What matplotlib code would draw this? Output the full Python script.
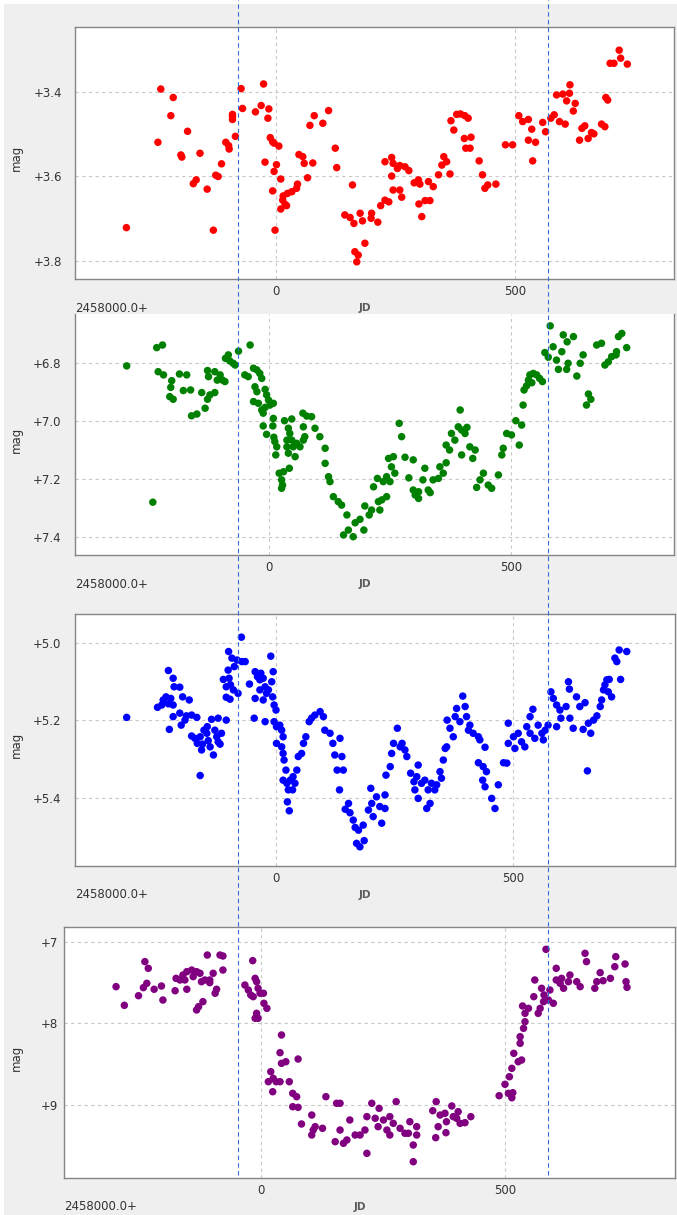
"""Four stacked light curves (JD vs mag) with two dashed reference lines."""
import matplotlib

matplotlib.use("Agg")
import matplotlib.pyplot as plt
from matplotlib.lines import Line2D
from matplotlib.patches import Rectangle
from matplotlib.ticker import FixedLocator, FuncFormatter

W, H = 677, 1215
BG = "#efefef"

# ---- data (JD - 2458000, magnitude) ----
RED_JD = [-313, -247, -241, -215, -220, -185, -199, -197, -159, -173,
          -167, -144, -131, -126, -121, -114, -105, -98, -99, -91,
          -91, -91, -85, -73, -70, -43, -31, -26, -15, -17,
          -23, -12, -7, -4, 6, 1, -4, 10, -7, -2,
          15, 24, 33, 43, 45, 14, 19, 10, 22, 48,
          56, 59, 66, 71, 80, 77, 98, 110, 124, 127,
          160, 144, 155, 163, 176, 181, 200, 199, 213, 165,
          172, 169, 186, 219, 228, 236, 228, 242, 245, 254,
          242, 259, 270, 278, 245, 259, 263, 289, 298, 301,
          319, 329, 299, 312, 322, 305, 340, 347, 351, 357,
          364, 366, 372, 378, 386, 395, 402, 394, 408, 397,
          406, 425, 432, 437, 443, 460, 480, 495, 508, 516,
          528, 535, 528, 543, 537, 558, 564, 575, 582, 587,
          600, 615, 614, 608, 626, 622, 593, 605, 635, 640,
          646, 653, 660, 665, 681, 688, 690, 694, 699, 707,
          718, 721, 735]
RED_MAG = [3.721, 3.519, 3.393, 3.413, 3.456, 3.493, 3.549, 3.554, 3.545, 3.617,
           3.608, 3.630, 3.727, 3.597, 3.600, 3.570, 3.519, 3.535, 3.527, 3.453,
           3.458, 3.465, 3.505, 3.392, 3.439, 3.447, 3.432, 3.381, 3.440, 3.462,
           3.566, 3.508, 3.518, 3.521, 3.528, 3.572, 3.588, 3.606, 3.634, 3.727,
           3.646, 3.640, 3.636, 3.628, 3.618, 3.656, 3.666, 3.677, 3.669, 3.548,
           3.553, 3.569, 3.603, 3.479, 3.456, 3.568, 3.474, 3.444, 3.533, 3.579,
           3.620, 3.691, 3.697, 3.711, 3.687, 3.705, 3.687, 3.699, 3.708, 3.778,
           3.786, 3.802, 3.758, 3.669, 3.656, 3.660, 3.565, 3.555, 3.569, 3.581,
           3.599, 3.574, 3.577, 3.586, 3.632, 3.632, 3.649, 3.615, 3.608, 3.618,
           3.612, 3.624, 3.665, 3.657, 3.657, 3.695, 3.596, 3.573, 3.553, 3.565,
           3.594, 3.468, 3.490, 3.453, 3.452, 3.456, 3.462, 3.510, 3.507, 3.533,
           3.533, 3.563, 3.596, 3.628, 3.620, 3.618, 3.525, 3.525, 3.456, 3.470,
           3.465, 3.488, 3.514, 3.519, 3.563, 3.472, 3.494, 3.462, 3.454, 3.407,
           3.405, 3.383, 3.403, 3.421, 3.427, 3.445, 3.470, 3.476, 3.514, 3.486,
           3.480, 3.510, 3.496, 3.499, 3.476, 3.482, 3.413, 3.419, 3.332, 3.332,
           3.301, 3.320, 3.334]

GREEN_JD = [-294, -240, -232, -220, -229, -218, -201, -203, -205, -198,
            -185, -170, -177, -162, -160, -149, -132, -139, -127, -122,
            -112, -127, -125, -112, -107, -101, -96, -91, -90, -84,
            -81, -74, -70, -63, -39, -50, -43, -32, -25, -19,
            -15, -29, -25, -8, -5, -1, -32, -22, -15, -8,
            -12, 2, 9, 9, 8, -12, -5, 10, 12, 16,
            14, 21, 30, 26, 28, 26, 42, 32, 47, 40,
            43, 37, 37, 47, 50, 54, 40, 57, 64, 71,
            74, 71, 70, 78, 88, 95, 105, 116, 116, 123,
            126, 133, 143, 150, 161, 154, 164, 174, 178, 188,
            196, 198, 207, 212, 226, 229, 233, 243, 216, 224,
            236, 243, 250, 260, 253, 247, 257, 269, 274, 281,
            289, 298, 298, 302, 309, 309, 318, 322, 329, 333,
            339, 350, 353, 360, 366, 366, 373, 377, 384, 391,
            395, 398, 405, 409, 398, 415, 426, 421, 429, 436,
            443, 453, 460, 474, 481, 484, 491, 501, 510, 517,
            522, 525, 527, 532, 536, 539, 546, 553, 559, 565,
            543, 581, 570, 577, 587, 594, 598, 605, 608, 616,
            629, 618, 615, 636, 643, 649, 656, 660, 665, 677,
            687, 694, 701, 708, 718, 722, 729, 739, 717]
GREEN_MAG = [6.810, 7.280, 6.747, 6.738, 6.830, 6.841, 6.861, 6.884, 6.916, 6.925,
             6.838, 6.841, 6.895, 6.893, 6.982, 6.976, 6.956, 6.902, 6.925, 6.910,
             6.902, 6.826, 6.847, 6.830, 6.859, 6.841, 6.859, 6.864, 6.784, 6.772,
             6.793, 6.801, 6.807, 6.759, 6.738, 6.841, 6.847, 6.818, 6.824, 6.836,
             6.853, 6.882, 6.899, 6.891, 6.910, 6.928, 6.933, 6.939, 6.962, 6.953,
             6.973, 6.945, 6.939, 6.991, 7.017, 7.017, 7.046, 7.056, 7.071, 7.089,
             7.117, 7.180, 7.175, 7.203, 7.221, 7.232, 7.163, 6.999, 6.993, 7.025,
             7.043, 7.066, 7.089, 7.066, 7.089, 7.123, 7.111, 7.077, 7.089, 7.020,
             7.054, 7.066, 6.973, 6.983, 6.985, 7.025, 7.054, 7.094, 7.146, 7.192,
             7.209, 7.261, 7.278, 7.290, 7.324, 7.393, 7.376, 7.399, 7.351, 7.339,
             7.376, 7.293, 7.324, 7.307, 7.278, 7.307, 7.272, 7.261, 7.227, 7.198,
             7.209, 7.192, 7.209, 7.180, 7.158, 7.129, 7.123, 7.008, 7.054, 7.125,
             7.196, 7.134, 7.238, 7.255, 7.267, 7.244, 7.203, 7.163, 7.238, 7.247,
             7.203, 7.198, 7.158, 7.180, 7.144, 7.083, 7.100, 7.043, 7.066, 7.020,
             6.962, 7.031, 7.043, 7.022, 7.117, 7.089, 7.100, 7.129, 7.229, 7.203,
             7.180, 7.221, 7.232, 7.186, 7.117, 7.094, 7.043, 7.048, 6.999, 7.083,
             7.014, 6.945, 6.893, 6.879, 6.859, 6.841, 6.836, 6.841, 6.853, 6.864,
             6.868, 6.672, 6.764, 6.780, 6.744, 6.790, 6.822, 6.761, 6.703, 6.727,
             6.709, 6.801, 6.822, 6.845, 6.801, 6.772, 6.945, 6.907, 6.925, 6.738,
             6.732, 6.807, 6.796, 6.778, 6.761, 6.709, 6.698, 6.747, 6.772]

BLUE_JD = [-315, -250, -241, -238, -232, -227, -222, -217, -225, -227,
           -217, -215, -203, -197, -183, -217, -203, -200, -192, -189,
           -178, -167, -178, -171, -166, -160, -155, -157, -152, -145,
           -146, -143, -139, -132, -160, -136, -129, -125, -122, -118,
           -122, -115, -105, -111, -105, -101, -99, -100, -93, -96,
           -90, -105, -97, -80, -88, -82, -72, -65, -73, -56,
           -46, -44, -39, -32, -34, -27, -23, -44, -34, -23,
           -20, -27, -16, -11, -6, -9, -7, -4, 0, -4,
           1, 8, 12, 15, 1, 12, 15, 17, 21, 15,
           23, 26, 30, 36, 40, 44, 35, 24, 28, 47,
           54, 58, 63, 70, 75, 82, 93, 100, 103, 114,
           120, 124, 129, 134, 135, 139, 142, 146, 153, 156,
           163, 167, 170, 177, 186, 174, 184, 195, 202, 200,
           205, 212, 219, 223, 230, 230, 232, 241, 244, 248,
           256, 262, 266, 272, 276, 284, 291, 297, 300, 293,
           300, 307, 314, 318, 325, 321, 328, 335, 339, 346,
           349, 353, 357, 360, 361, 367, 374, 378, 381, 388,
           394, 399, 402, 406, 409, 416, 427, 430, 441, 427,
           437, 444, 436, 441, 455, 462, 469, 480, 487, 490,
           490, 501, 504, 511, 518, 525, 529, 536, 542, 536,
           546, 553, 561, 568, 574, 564, 580, 585, 592, 599,
           601, 612, 592, 617, 619, 620, 627, 634, 641, 652,
           657, 648, 664, 659, 670, 677, 684, 687, 691, 694,
           701, 698, 708, 703, 715, 719, 724, 727, 740]
BLUE_MAG = [5.192, 5.166, 5.160, 5.147, 5.139, 5.157, 5.143, 5.160, 5.223, 5.071,
            5.091, 5.113, 5.114, 5.139, 5.147, 5.190, 5.181, 5.212, 5.199, 5.188,
            5.186, 5.192, 5.240, 5.246, 5.259, 5.242, 5.261, 5.276, 5.225, 5.216,
            5.233, 5.252, 5.268, 5.289, 5.342, 5.197, 5.225, 5.242, 5.255, 5.261,
            5.194, 5.233, 5.199, 5.094, 5.113, 5.070, 5.091, 5.022, 5.039, 5.108,
            5.121, 5.140, 5.145, 5.130, 5.061, 5.044, 5.048, 5.048, 4.985, 5.106,
            5.194, 5.074, 5.087, 5.078, 5.095, 5.091, 5.203, 5.143, 5.121, 5.113,
            5.130, 5.147, 5.121, 5.034, 5.074, 5.100, 5.139, 5.160, 5.173, 5.203,
            5.216, 5.212, 5.225, 5.242, 5.259, 5.268, 5.285, 5.302, 5.328, 5.354,
            5.362, 5.379, 5.354, 5.345, 5.362, 5.328, 5.379, 5.410, 5.433, 5.293,
            5.285, 5.259, 5.242, 5.203, 5.194, 5.186, 5.177, 5.190, 5.225, 5.233,
            5.259, 5.289, 5.328, 5.379, 5.246, 5.293, 5.328, 5.429, 5.414, 5.438,
            5.457, 5.476, 5.517, 5.526, 5.510, 5.483, 5.470, 5.431, 5.414, 5.375,
            5.448, 5.397, 5.422, 5.465, 5.392, 5.427, 5.341, 5.319, 5.285, 5.259,
            5.220, 5.268, 5.259, 5.276, 5.293, 5.336, 5.358, 5.345, 5.315, 5.379,
            5.401, 5.362, 5.354, 5.427, 5.414, 5.379, 5.362, 5.379, 5.366, 5.332,
            5.349, 5.302, 5.272, 5.268, 5.199, 5.220, 5.242, 5.190, 5.169, 5.203,
            5.137, 5.164, 5.190, 5.225, 5.212, 5.233, 5.242, 5.250, 5.269, 5.309,
            5.319, 5.332, 5.354, 5.371, 5.401, 5.427, 5.366, 5.309, 5.310, 5.207,
            5.259, 5.242, 5.272, 5.233, 5.255, 5.268, 5.216, 5.190, 5.171, 5.233,
            5.246, 5.212, 5.233, 5.225, 5.212, 5.250, 5.126, 5.143, 5.160, 5.173,
            5.194, 5.164, 5.216, 5.100, 5.119, 5.194, 5.220, 5.139, 5.164, 5.154,
            5.330, 5.223, 5.233, 5.207, 5.199, 5.188, 5.164, 5.147, 5.121, 5.108,
            5.126, 5.095, 5.139, 5.094, 5.039, 5.048, 5.018, 5.094, 5.022]

PURPLE_JD = [-297, -280, -251, -241, -234, -238, -231, -219, -204, -201,
             -176, -174, -166, -160, -152, -156, -152, -142, -139, -132,
             -125, -122, -115, -105, -98, -110, -105, -94, -91, -84,
             -78, -78, -132, -128, -119, -17, -33, -26, -21, -12,
             -9, -16, -6, -2, 5, 6, 12, -9, -6, -12,
             42, 39, 42, 51, 76, 15, 20, 25, 31, 24,
             39, 58, 65, 73, 65, 76, 83, 104, 107, 104,
             111, 126, 133, 155, 152, 162, 162, 169, 176, 182,
             193, 203, 213, 217, 217, 227, 234, 240, 242, 251,
             258, 264, 264, 271, 277, 285, 295, 305, 302, 312,
             312, 319, 319, 352, 359, 363, 358, 367, 377, 380,
             379, 391, 394, 401, 408, 418, 430, 404, 488, 500,
             507, 514, 516, 509, 514, 518, 527, 534, 531, 531,
             538, 541, 536, 541, 548, 561, 559, 568, 572, 575,
             580, 584, 579, 589, 599, 592, 605, 605, 613, 620,
             616, 633, 630, 647, 654, 664, 667, 684, 688, 695,
             701, 716, 725, 727, 746, 748, 750]
PURPLE_MAG = [7.548, 7.777, 7.659, 7.560, 7.507, 7.241, 7.323, 7.580, 7.540, 7.712,
              7.598, 7.446, 7.466, 7.405, 7.580, 7.466, 7.364, 7.344, 7.425, 7.364,
              7.384, 7.487, 7.466, 7.466, 7.384, 7.160, 7.499, 7.629, 7.580, 7.160,
              7.172, 7.344, 7.834, 7.794, 7.732, 7.229, 7.528, 7.589, 7.650, 7.446,
              7.487, 7.671, 7.568, 7.629, 7.629, 7.752, 7.814, 7.875, 7.936, 7.936,
              8.141, 8.358, 8.489, 8.469, 8.436, 8.714, 8.591, 8.673, 8.714, 8.837,
              8.714, 8.714, 8.857, 8.898, 9.021, 9.029, 9.233, 9.123, 9.307, 9.368,
              9.266, 9.286, 8.898, 8.979, 9.450, 8.979, 9.307, 9.470, 9.429, 9.184,
              9.368, 9.368, 9.307, 9.593, 9.143, 8.979, 9.163, 9.266, 9.041, 9.184,
              9.307, 9.368, 9.143, 9.225, 8.959, 9.286, 9.347, 9.205, 9.347, 9.491,
              9.696, 9.266, 9.368, 9.070, 8.959, 9.266, 9.401, 9.123, 9.102, 9.205,
              9.340, 9.012, 9.143, 9.163, 9.225, 9.217, 9.143, 9.082, 8.886, 8.746,
              8.857, 8.911, 8.849, 8.653, 8.550, 8.366, 8.469, 8.448, 8.243, 8.162,
              8.059, 7.978, 7.785, 7.875, 7.814, 7.466, 7.671, 7.875, 7.814, 7.568,
              7.650, 7.090, 7.732, 7.712, 7.752, 7.589, 7.323, 7.466, 7.507, 7.568,
              7.446, 7.405, 7.487, 7.487, 7.548, 7.139, 7.241, 7.568, 7.487, 7.376,
              7.475, 7.446, 7.303, 7.180, 7.270, 7.487, 7.556]

SERIES = [(RED_JD, RED_MAG, "#ff0000"),
          (GREEN_JD, GREEN_MAG, "#008000"),
          (BLUE_JD, BLUE_MAG, "#0000ff"),
          (PURPLE_JD, PURPLE_MAG, "#800080")]

X_TICKS = [0, 500]
Y_TICKS = [[3.4, 3.6, 3.8], [6.8, 7.0, 7.2, 7.4], [5.0, 5.2, 5.4], [7, 8, 9]]
Y_DECIMALS = [1, 1, 1, 0]
MARK_JD = [-80, 569]          # dashed guide lines, in panel-1 JD
OFFSET_LABEL = "2458000.0+"

# ---- layout (screen pixels) ----
# box = (left, top, right, bottom); xcal = pixel of JD 0 and JD 500;
# ycal = ((value, pixel), (value, pixel))
LAYOUT = [
    dict(box=(75, 27, 674, 279), xcal=(276, 515), ycal=((3.4, 92), (3.8, 261)), ypad=9.5, top=True, jdx=365),
    dict(box=(75, 314, 674, 555), xcal=(269, 511), ycal=((6.8, 363), (7.4, 537)), ypad=10, top=False, jdx=365),
    dict(box=(75, 614, 675, 866), xcal=(276, 513), ycal=((5.0, 643), (5.4, 798)), ypad=10, top=True, jdx=365),
    dict(box=(64, 927, 675, 1178), xcal=(261, 505), ycal=((7, 942), (9, 1105)), ypad=4.5, top=True, jdx=360),
]

TEXT = "#333333"
GRID = "#c8c8c8"
SPINE = "#858585"


def fx(px):
    return px / W


def fy(py):
    return 1 - py / H


def main():
    fig = plt.figure(figsize=(W / 100, H / 100), dpi=100, facecolor="white")
    fig.add_artist(Rectangle((fx(4), 0), 1 - fx(4), fy(4), transform=fig.transFigure,
                             facecolor=BG, edgecolor="none", zorder=-10))

    axes = []
    for (jd, mag, color), lay, yt, dec in zip(SERIES, LAYOUT, Y_TICKS, Y_DECIMALS):
        l, t, r, b = lay["box"]
        ax = fig.add_axes([fx(l), fy(b), (r - l) / W, (b - t) / H])
        ax.set_facecolor("white")

        x0, x500 = lay["xcal"]
        ppd = (x500 - x0) / 500.0
        ax.set_xlim((l - x0) / ppd, (r - x0) / ppd)
        (v1, p1), (v2, p2) = lay["ycal"]
        mpp = (v2 - v1) / (p2 - p1)
        ax.set_ylim(v1 + (b - p1) * mpp, v1 + (t - p1) * mpp)

        ax.scatter(jd, mag, s=29, color=color, edgecolors="none", zorder=3)

        ax.xaxis.set_major_locator(FixedLocator(X_TICKS))
        ax.yaxis.set_major_locator(FixedLocator(yt))
        ax.yaxis.set_major_formatter(FuncFormatter(lambda v, _p, d=dec: f"+{v:.{d}f}"))
        ax.tick_params(length=0, labelsize=8.5, labelcolor=TEXT)
        ax.tick_params(axis="x", pad=4.5)
        ax.tick_params(axis="y", pad=lay["ypad"])
        ax.grid(True, color=GRID, linestyle=(0, (3, 3)), linewidth=0.8)
        ax.set_axisbelow(True)
        for name, sp in ax.spines.items():
            sp.set_color(SPINE)
            sp.set_linewidth(1.0)
        if not lay["top"]:
            ax.spines["top"].set_visible(False)

        fig.text(fx(16), fy((t + b) / 2 + 5), "mag", rotation=90, ha="center", va="center",
                 fontsize=8.5, color=TEXT)
        fig.text(fx(l), fy(b + 29), OFFSET_LABEL, ha="left", va="center", fontsize=8.5, color=TEXT)
        fig.text(fx(lay["jdx"]), fy(b + 29), "JD", ha="center", va="center", fontsize=7.5,
                 fontweight="bold", color="#5c5c5c")
        axes.append(ax)

    # dashed guides through all panels, placed from panel-1 coordinates
    ax1 = axes[0]
    for jd in MARK_JD:
        xf = fig.transFigure.inverted().transform(ax1.transData.transform((jd, 3.5)))[0]
        fig.add_artist(Line2D([xf, xf], [fy(1175), 1.0], transform=fig.transFigure,
                              color="#2f6fd8", linewidth=0.8, linestyle=(0, (4, 3)), zorder=10))

    fig.savefig("out.png", dpi=100, facecolor=fig.get_facecolor())
    plt.close(fig)


if __name__ == "__main__":
    main()
